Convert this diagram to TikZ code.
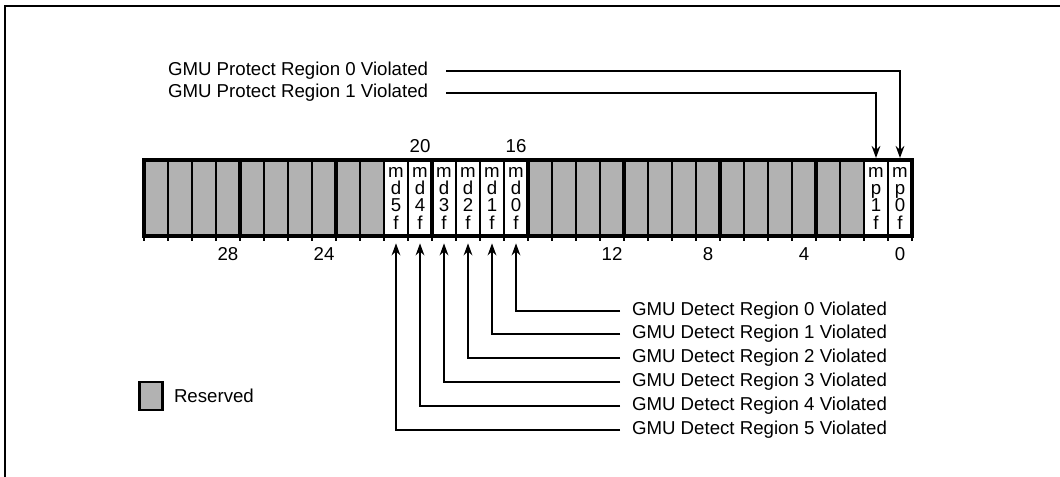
\documentclass[tikz,border=0pt]{standalone}
\usepackage{fontspec}
\setmainfont{Liberation Sans}
\usetikzlibrary{arrows.meta}
\definecolor{resgray}{gray}{0.70}
\tikzset{
  cell/.style={minimum width=18pt,minimum height=57pt,inner sep=0pt,outer sep=0pt,draw=none},
  rescell/.style={cell,fill=resgray},
  bitcell/.style={cell,fill=white,align=center,font=\fontsize{14}{13}\selectfont},
  thinline/.style={line width=1.4pt},
  thickline/.style={line width=2.7pt},
  lbl/.style={inner sep=0pt,outer sep=0pt,font=\fontsize{14}{16}\selectfont},
  num/.style={lbl},
  arr/.style={line width=1.5pt,-{Stealth[length=9pt,width=6.5pt]}},
}
\begin{document}
\begin{tikzpicture}[x=0.75pt,y=-0.75pt]
\useasboundingbox (0,0) rectangle (1060,477);
\draw[line width=1.6pt] (5,477) -- (5,6) -- (1060,6);
% register cells
\foreach \i in {2,...,15,22,23,...,31}{
  \node[rescell] (b\i) at ({912-24*\i-12},198) {};
}
\node[bitcell] (b0) at (900,198) {m\\p\\0\\f};
\node[bitcell] (b1) at (876,198) {m\\p\\1\\f};
\node[bitcell] (b16) at (516,198) {m\\d\\0\\f};
\node[bitcell] (b17) at (492,198) {m\\d\\1\\f};
\node[bitcell] (b18) at (468,198) {m\\d\\2\\f};
\node[bitcell] (b19) at (444,198) {m\\d\\3\\f};
\node[bitcell] (b20) at (420,198) {m\\d\\4\\f};
\node[bitcell] (b21) at (396,198) {m\\d\\5\\f};
% thin dividers and ticks
\foreach \i in {0,...,31}{
  \draw[thinline] (b\i.north east) -- (b\i.south east) -- ++(0,5);
}
\draw[thinline] (b31.south west) -- ++(0,5);
% thick nibble dividers
\foreach \i in {4,8,...,28}{
  \draw[thickline] (b\i.north east) -- (b\i.south east);
}
\draw[thickline] (b31.north west) rectangle (b0.south east);
% bit numbers
\node[num] (t20) at ([yshift=10.5pt]b20.north) {20};
\node[num] (t16) at ([yshift=10.5pt]b16.north) {16};
\foreach \i in {28,24,12,8,4,0}{
  \node[num] (n\i) at ([yshift=-13.5pt]b\i.south) {\i};
}
% protect labels
\node[lbl,anchor=west] (p0) at (168,71) {GMU Protect Region 0 Violated};
\node[lbl,anchor=west] (p1) at (168,93) {GMU Protect Region 1 Violated};
\draw[arr,shorten >=1.5pt] ([xshift=13.5pt]p0.east) -| (b0.north);
\draw[arr,shorten >=1.5pt] ([xshift=13.5pt]p1.east) -| (b1.north);
% detect labels
\foreach \k/\y in {0/311,1/334,2/358,3/382,4/406,5/430}{
  \node[lbl,anchor=west] (d\k) at (632,\y) {GMU Detect Region \k\ Violated};
}
\draw[arr,shorten >=5.5pt] ([xshift=-9pt]d0.west) -| (b16.south);
\draw[arr,shorten >=5.5pt] ([xshift=-9pt]d1.west) -| (b17.south);
\draw[arr,shorten >=5.5pt] ([xshift=-9pt]d2.west) -| (b18.south);
\draw[arr,shorten >=5.5pt] ([xshift=-9pt]d3.west) -| (b19.south);
\draw[arr,shorten >=5.5pt] ([xshift=-9pt]d4.west) -| (b20.south);
\draw[arr,shorten >=5.5pt] ([xshift=-9pt]d5.west) -| (b21.south);
% legend
\node[draw,line width=2pt,fill=resgray,minimum width=17.5pt,minimum height=21pt,inner sep=0pt] (leg) at (151,396) {};
\node[lbl,anchor=west] (legt) at (174,396) {Reserved};
\end{tikzpicture}
\end{document}
